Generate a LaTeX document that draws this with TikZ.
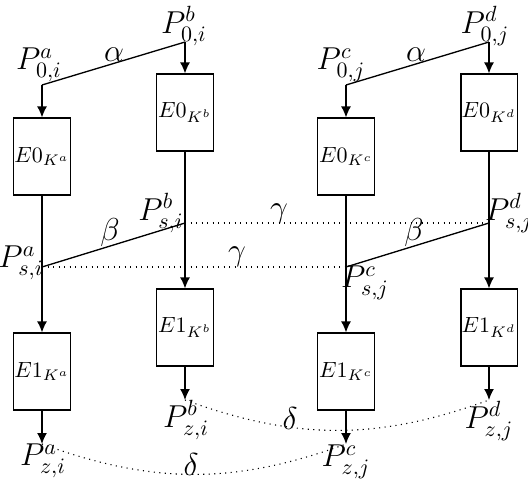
\documentclass[tikz,border=0pt]{standalone}
\usetikzlibrary{arrows.meta}
\begin{document}
\begin{tikzpicture}[x=0.4545pt,y=-0.4545pt,
  ebox/.style={draw,line width=0.5pt,minimum width=25.5pt,minimum height=35pt,inner sep=0pt},
  conn/.style={line width=0.6pt},
  arr/.style={conn,-{Latex[length=5pt,width=4.5pt]}},
  dot/.style={dotted,line width=0.5pt},
  lab/.style={inner sep=0pt,font=\Large}]
\useasboundingbox (0,0) rectangle (528,484);
% points
\coordinate (p0a) at (42,85);
\coordinate (p0b) at (185,42);
\coordinate (p0c) at (346,85);
\coordinate (p0d) at (489,42);
\coordinate (psa) at (42,267);
\coordinate (psb) at (185,223);
\coordinate (psc) at (346,267);
\coordinate (psd) at (489,223);
\coordinate (pza) at (42,444);
\coordinate (pzb) at (185,400);
\coordinate (pzc) at (346,444);
\coordinate (pzd) at (489,400);
% boxes
\node[ebox] (e0a) at (42,156.5) {$E0_{K^a}$};
\node[ebox] (e0b) at (185,112.5) {$E0_{K^b}$};
\node[ebox] (e0c) at (346,156.5) {$E0_{K^c}$};
\node[ebox] (e0d) at (489,112.5) {$E0_{K^d}$};
\node[ebox] (e1a) at (42,371.5) {$E1_{K^a}$};
\node[ebox] (e1b) at (185,327.5) {$E1_{K^b}$};
\node[ebox] (e1c) at (346,371.5) {$E1_{K^c}$};
\node[ebox] (e1d) at (489,327.5) {$E1_{K^d}$};
% connectors
\draw[conn] (p0a) -- (p0b);
\draw[conn] (p0c) -- (p0d);
\draw[arr] (p0a) -- (e0a.north);
\draw[arr] (p0b) -- (e0b.north);
\draw[arr] (p0c) -- (e0c.north);
\draw[arr] (p0d) -- (e0d.north);
\draw[arr] (e0a.south) -- (e1a.north);
\draw[arr] (e0b.south) -- (e1b.north);
\draw[arr] (e0c.south) -- (e1c.north);
\draw[arr] (e0d.south) -- (e1d.north);
\draw[arr] (e1a.south) -- (pza);
\draw[arr] (e1b.south) -- (pzb);
\draw[arr] (e1c.south) -- (pzc);
\draw[arr] (e1d.south) -- (pzd);
\draw[conn] (psa) -- (psb);
\draw[conn] (psc) -- (psd);
\draw[dot] (psb) -- (psd);
\draw[dot] (psa) -- (psc);
\draw[dot] (pza) to[bend right=20] (pzc);
\draw[dot] (pzb) to[bend right=20] (pzd);
% labels
\node[lab] (l0a) at (39,65) {$P^a_{0,i}$};
\node[lab] (l0b) at (184,26) {$P^b_{0,i}$};
\node[lab] (l0c) at (341,65) {$P^c_{0,j}$};
\node[lab] (l0d) at (485,26) {$P^d_{0,j}$};
\node[lab] (lsa) at (21,263) {$P^a_{s,i}$};
\node[lab] (lsb) at (161,213) {$P^b_{s,i}$};
\node[lab] (lsc) at (365,283) {$P^c_{s,j}$};
\node[lab] (lsd) at (509,213) {$P^d_{s,j}$};
\node[lab] (lza) at (43,461) {$P^a_{z,i}$};
\node[lab] (lzb) at (186,420) {$P^b_{z,i}$};
\node[lab] (lzc) at (346,462) {$P^c_{z,j}$};
\node[lab] (lzd) at (489,421) {$P^d_{z,j}$};
\node[lab] (al1) at (114,55) {$\alpha$};
\node[lab] (al2) at (416,55) {$\alpha$};
\node[lab] (be1) at (110,233) {$\beta$};
\node[lab] (be2) at (414,233) {$\beta$};
\node[lab] (ga1) at (279,214) {$\gamma$};
\node[lab] (ga2) at (237,257) {$\gamma$};
\node[lab] (de1) at (191,464) {$\delta$};
\node[lab] (de2) at (290,418) {$\delta$};
\end{tikzpicture}
\end{document}
